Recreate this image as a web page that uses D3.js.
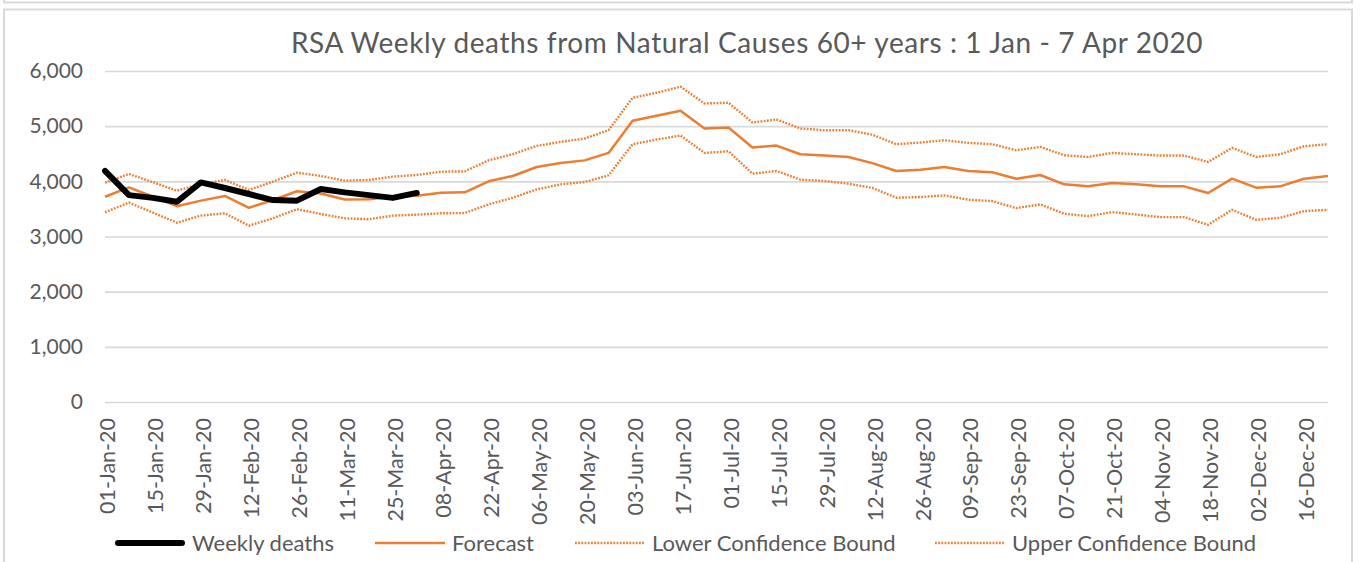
<!DOCTYPE html>
<html>
  <head>
    <script src="https://cdnjs.cloudflare.com/ajax/libs/d3/7.8.5/d3.min.js"></script>
    <style>
      body { margin: 0; background: #fff; }
      svg { display: block; font-family: "Lato", "Open Sans", sans-serif; }
      .grid line { stroke: #d9d9d9; stroke-width: 1.6; }
      .axis text { fill: #595959; }
      path.deaths { fill: none; stroke: #000; stroke-width: 6; stroke-linejoin: round; stroke-linecap: round; }
      path.forecast { fill: none; stroke: #ed7d31; stroke-width: 2.5; stroke-linejoin: round; }
      path.bound { fill: none; stroke: #ed7d31; stroke-width: 2.4; stroke-dasharray: 1.8 1.4; }
    </style>
  </head>
  <body>
    <svg width="1362" height="562"></svg>
    <script>
      // weekly categories (Wednesdays of 2020)
      var weeks = ["01-Jan-20","08-Jan-20","15-Jan-20","22-Jan-20","29-Jan-20","05-Feb-20","12-Feb-20","19-Feb-20",
        "26-Feb-20","04-Mar-20","11-Mar-20","18-Mar-20","25-Mar-20","01-Apr-20","08-Apr-20","15-Apr-20",
        "22-Apr-20","29-Apr-20","06-May-20","13-May-20","20-May-20","27-May-20","03-Jun-20","10-Jun-20",
        "17-Jun-20","24-Jun-20","01-Jul-20","08-Jul-20","15-Jul-20","22-Jul-20","29-Jul-20","05-Aug-20",
        "12-Aug-20","19-Aug-20","26-Aug-20","02-Sep-20","09-Sep-20","16-Sep-20","23-Sep-20","30-Sep-20",
        "07-Oct-20","14-Oct-20","21-Oct-20","28-Oct-20","04-Nov-20","11-Nov-20","18-Nov-20","25-Nov-20",
        "02-Dec-20","09-Dec-20","16-Dec-20","23-Dec-20"];

      var weeklyDeaths = [4190, 3750, 3700, 3630, 3980, 3880, 3770, 3660, 3650, 3860, 3800, 3750, 3700, 3790];

      var forecast = [3720, 3890, 3720, 3550, 3650, 3735, 3520, 3660, 3820, 3780, 3670, 3675, 3720, 3740,
        3795, 3800, 4000, 4097, 4260, 4333, 4380, 4515, 5097, 5188, 5279, 4958, 4976, 4612, 4648, 4491,
        4467, 4442, 4330, 4188, 4212, 4261, 4188, 4164, 4048, 4115, 3945, 3909, 3970, 3945, 3909, 3909,
        3788, 4048, 3885, 3909, 4048, 4097];

      var lowerBound = [3439, 3614, 3432, 3251, 3378, 3421, 3197, 3330, 3494, 3408, 3330, 3312, 3378, 3396,
        3421, 3425, 3582, 3703, 3854, 3945, 3988, 4109, 4673, 4758, 4830, 4515, 4545, 4139, 4188, 4030,
        4006, 3958, 3880, 3703, 3715, 3745, 3667, 3642, 3515, 3582, 3412, 3370, 3442, 3400, 3351, 3351,
        3212, 3485, 3303, 3339, 3460, 3485];

      var upperBound = [3976, 4134, 3983, 3831, 3952, 4025, 3844, 3995, 4157, 4097, 4012, 4025, 4085, 4115,
        4175, 4180, 4382, 4491, 4642, 4715, 4776, 4927, 5515, 5606, 5715, 5412, 5424, 5066, 5121, 4958,
        4927, 4927, 4845, 4673, 4703, 4745, 4697, 4673, 4564, 4624, 4473, 4442, 4515, 4491, 4467, 4467,
        4351, 4606, 4442, 4491, 4636, 4673];

      var yTicks = [0, 1000, 2000, 3000, 4000, 5000, 6000];
      var legendNames = ["Weekly deaths", "Forecast", "Lower Confidence Bound", "Upper Confidence Bound"];
      var legendClasses = ["deaths", "forecast", "bound", "bound"];

      var svg = d3.select("svg");
      var plotLeft = 105, plotRight = 1328, plotTop = 71, plotBottom = 402;

      // chart frame (plus the edge of the box above it)
      svg.append("rect").attr("x", 4).attr("y", -20).attr("width", 1348).attr("height", 22.5)
        .attr("fill", "#fff").attr("stroke", "#d9d9d9").attr("stroke-width", 2);
      svg.append("rect").attr("x", 4).attr("y", 9.5).attr("width", 1348).attr("height", 600)
        .attr("fill", "#fff").attr("stroke", "#d9d9d9").attr("stroke-width", 2);

      var x = d3.scalePoint().domain(weeks).range([plotLeft, plotRight]);
      var y = d3.scaleLinear().domain([0, 6000]).range([plotBottom, plotTop]);

      svg.append("g")
        .attr("class", "axis grid")
        .attr("transform", "translate(" + plotLeft + ",0)")
        .call(d3.axisLeft(y).tickValues(yTicks).tickFormat(d3.format(","))
          .tickSize(-(plotRight - plotLeft)).tickPadding(22))
        .call(g => g.select(".domain").remove())
        .selectAll("text").style("font-size", "21px").style("font-family", "Lato");

      svg.append("g")
        .attr("class", "axis")
        .attr("transform", "translate(0," + plotBottom + ")")
        .call(d3.axisBottom(x).tickValues(weeks.filter((d, i) => i % 2 == 0)).tickSize(0))
        .call(g => g.select(".domain").remove())
        .selectAll("text")
        .style("font-size", "21.5px")
        .style("font-family", "Lato")
        .attr("text-anchor", "end")
        .attr("transform", "rotate(-90)")
        .attr("x", -16)
        .attr("y", 0)
        .attr("dy", "0.45em");

      var line = d3.line().x((d, i) => x(weeks[i])).y(d => y(d));

      svg.append("path").datum(lowerBound).attr("class", "bound").attr("d", line);
      svg.append("path").datum(upperBound).attr("class", "bound").attr("d", line);
      svg.append("path").datum(forecast).attr("class", "forecast").attr("d", line);
      svg.append("path").datum(weeklyDeaths).attr("class", "deaths").attr("d", line);

      svg.append("text")
        .attr("x", 747).attr("y", 53)
        .attr("text-anchor", "middle")
        .attr("fill", "#595959")
        .style("font-size", "28px")
        .style("letter-spacing", "0.6px")
        .text("RSA Weekly deaths from Natural Causes 60+ years : 1 Jan - 7 Apr 2020");

      // legend
      var legendX = [115, 375, 575, 935];
      var legend = svg.append("g").selectAll("g")
        .data(legendNames)
        .enter()
        .append("g")
        .attr("transform", (d, i) => "translate(" + legendX[i] + ",543)");
      legend.append("path")
        .attr("class", (d, i) => legendClasses[i])
        .attr("d", (d, i) => i == 0 ? "M3,0H67" : "M0,0H70");
      legend.append("text")
        .attr("x", 77).attr("dy", "0.35em")
        .attr("fill", "#595959")
        .style("font-size", "22px")
        .text(d => d);
    </script>
  </body>
</html>
